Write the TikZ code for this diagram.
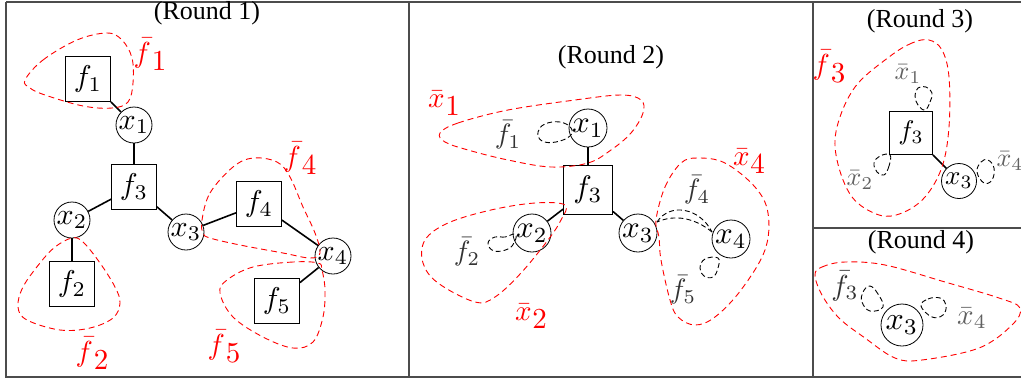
\documentclass[tikz,border=0pt]{standalone}
\usepackage[no-math]{fontspec}
\usepackage{graphicx}
\newfontfamily\titlefont{Liberation Serif}
\newcommand\mt[2]{\scalebox{#1}{$#2$}}
\newcommand\rlab[3]{\scalebox{#1}{$\bar{#2}\kern0.3pt\raisebox{-0.28em}{$#3$}$}}
\tikzset{
  frame/.style={draw=black!70,line width=1.3pt},
  title/.style={font=\titlefont\fontsize{26}{26}\selectfont,inner sep=0pt},
  facA/.style={draw,line width=0.8pt,inner sep=0pt,minimum size=45pt},
  varA/.style={circle,draw,line width=0.8pt,inner sep=0pt,minimum size=36pt},
  facB/.style={draw,line width=0.8pt,inner sep=0pt,minimum size=49pt},
  varB/.style={circle,draw,line width=0.8pt,inner sep=0pt,minimum size=38pt},
  facC/.style={draw,line width=0.8pt,inner sep=0pt,minimum size=43pt},
  varC/.style={circle,draw,line width=0.8pt,inner sep=0pt,minimum size=35pt},
  varD/.style={circle,draw,line width=0.8pt,inner sep=0pt,minimum size=42pt},
  link/.style={line width=1.6pt},
  grp/.style={red,line width=0.9pt,dash pattern=on 6pt off 4pt},
  lp/.style={black,line width=0.9pt,dash pattern=on 5pt off 3pt},
  redlab/.style={red,inner sep=0pt},
  graylab/.style={black!80,inner sep=0pt},
  lightlab/.style={black!62,inner sep=0pt},
}
\begin{document}
\begin{tikzpicture}[x=1pt,y=-1pt]
\useasboundingbox (0,0) rectangle (1021,381);
% frames
\draw[frame] (6,2) -- (1021,2);
\draw[frame] (6,2) -- (6,377) -- (1021,377);
\draw[frame] (409,2) -- (409,377);
\draw[frame] (813,2) -- (813,377);
\draw[frame] (813,228) -- (1021,228);

% ---------------- Round 1
\node[title] (t1) at (207,13) {(Round 1)};
\node[facA] (f1) at (88,79) {\mt{3}{f_1}};
\node[varA] (x1) at (134,125) {\mt{3}{x_1}};
\node[facA] (f3) at (134,187) {\mt{3}{f_3}};
\node[varA] (x2) at (72,220) {\mt{3}{x_2}};
\node[facA] (f2) at (72,284) {\mt{3}{f_2}};
\node[varA] (x3) at (186,232) {\mt{3}{x_3}};
\node[facA] (f4) at (259,204) {\mt{3}{f_4}};
\node[varA] (x4) at (333,256) {\mt{3}{x_4}};
\node[facA] (f5) at (277,301) {\mt{3}{f_5}};
\draw[link] (f1) -- (x1);
\draw[link] (x1) -- (f3);
\draw[link] (f3) -- (x2);
\draw[link] (x2) -- (f2);
\draw[link] (f3) -- (x3);
\draw[link] (x3) -- (f4);
\draw[link] (f4) -- (x4);
\draw[link] (x4) -- (f5);
\draw[grp] plot[smooth cycle,tension=0.6] coordinates {(25,80) (43,60) (77,40) (107,33) (122,40) (132,58) (133,83) (128,102) (112,108) (83,106) (45,95) (30,88)};
\draw[grp] plot[smooth cycle,tension=0.6] coordinates {(72,238) (83,242) (100,263) (115,287) (120,303) (113,318) (90,328) (60,330) (27,320) (18,307) (23,287) (40,263) (55,247)};
\draw[grp] plot[smooth cycle,tension=0.6] coordinates {(202,220) (210,193) (233,167) (253,158) (277,162) (290,177) (303,207) (315,233) (320,253) (310,258) (283,253) (240,245) (210,238) (203,233)};
\draw[grp] plot[smooth cycle,tension=0.6] coordinates {(318,263) (293,262) (253,267) (227,280) (220,293) (233,317) (263,337) (293,348) (313,342) (323,317) (325,290) (322,270)};
\node[redlab] (lf1) at (150,54) {\rlab{2.9}{f}{1}};
\node[redlab] (lf2) at (92,353) {\rlab{2.9}{f}{2}};
\node[redlab] (lf4) at (300,158) {\rlab{2.9}{f}{4}};
\node[redlab] (lf5) at (224,346) {\rlab{2.9}{f}{5}};

% ---------------- Round 2
\node[title] (t2) at (611,57) {(Round 2)};
\node[varB] (bx1) at (588,128) {\mt{3.1}{x_1}};
\node[facB] (bf3) at (588,190) {\mt{3.1}{f_3}};
\node[varB] (bx2) at (532,233) {\mt{3.1}{x_2}};
\node[varB] (bx3) at (638,233) {\mt{3.1}{x_3}};
\node[varB] (bx4) at (731,239) {\mt{3.1}{x_4}};
\draw[link] (bx1) -- (bf3);
\draw[link] (bf3) -- (bx2);
\draw[link] (bf3) -- (bx3);
\draw[lp] plot[smooth cycle,tension=0.7] coordinates {(571,128) (560,122) (545,124) (538,132) (542,141) (556,142) (570,136)};
\draw[lp] plot[smooth cycle,tension=0.7] coordinates {(515,234) (505,237) (495,237) (488,243) (494,251) (508,249) (515,241)};
\draw[lp] (657,222) .. controls (670,202) and (700,208) .. (712,232);
\draw[lp] (712,232) .. controls (695,218) and (675,214) .. (657,222);
\draw[lp] plot[smooth cycle,tension=0.7] coordinates {(718,258) (705,259) (700,268) (704,276) (713,277) (718,268)};
\node[graylab] (gf1) at (508,135) {\mt{2.8}{\bar{f}_1}};
\node[graylab] (gf2) at (467,252) {\mt{2.8}{\bar{f}_2}};
\node[graylab] (gf4) at (697,190) {\mt{2.8}{\bar{f}_4}};
\node[graylab] (gf5) at (683,290) {\mt{2.8}{\bar{f}_5}};
\draw[grp] plot[smooth cycle,tension=0.6] coordinates {(440,133) (458,123) (508,110) (575,100) (621,95) (641,100) (643,113) (631,133) (611,150) (588,163) (551,167) (508,160) (468,150) (445,142)};
\draw[grp] plot[smooth cycle,tension=0.6] coordinates {(565,205) (535,203) (491,210) (448,223) (425,240) (423,263) (438,283) (475,302) (495,297) (521,273) (548,240) (561,220)};
\draw[grp] plot[smooth cycle,tension=0.6] coordinates {(656,220) (665,187) (681,163) (698,158) (725,163) (755,187) (768,213) (765,250) (741,290) (715,317) (695,325) (678,317) (670,300) (661,260) (659,237)};
\node[redlab] (lx1) at (444,103) {\rlab{2.9}{x}{1}};
\node[redlab] (lx2) at (531,316) {\rlab{2.9}{x}{2}};
\node[redlab] (lx4) at (749,161) {\rlab{2.9}{x}{4}};

% ---------------- Round 3
\node[title] (t3) at (920,21) {(Round 3)};
\node[facC] (cf3) at (911,133) {\mt{2.7}{f_3}};
\node[varC] (cx3) at (959,181) {\mt{2.7}{x_3}};
\draw[link] (cf3) -- (cx3);
\draw[lp] plot[smooth cycle,tension=0.7] coordinates {(925,110) (930,102) (932,93) (926,87) (918,88) (915,96) (918,105)};
\draw[lp] plot[smooth cycle,tension=0.7] coordinates {(890,155) (889,166) (884,175) (877,172) (874,163) (880,156)};
\draw[lp] plot[smooth cycle,tension=0.7] coordinates {(977,172) (981,162) (988,160) (994,168) (992,180) (984,183)};
\node[lightlab] (gx1) at (908,74) {\mt{2.6}{\bar{x}_1}};
\node[lightlab] (gx2) at (860,180) {\mt{2.6}{\bar{x}_2}};
\node[lightlab] (gx4) at (1010,161) {\mt{2.6}{\bar{x}_4}};
\draw[grp] plot[smooth cycle,tension=0.6] coordinates {(929,40) (912,43) (889,57) (855,87) (837,127) (837,160) (852,197) (879,215) (902,213) (925,197) (942,167) (949,127) (949,77) (942,50)};
\node[redlab] (lf3) at (829,66) {\rlab{2.9}{f}{3}};

% ---------------- Round 4
\node[title] (t4) at (921,242) {(Round 4)};
\node[varD] (dx3) at (902,325) {\mt{3.2}{x_3}};
\draw[lp] plot[smooth cycle,tension=0.7] coordinates {(883,307) (878,294) (870,286) (863,292) (862,302) (870,311)};
\draw[lp] plot[smooth cycle,tension=0.7] coordinates {(921,306) (928,299) (940,298) (946,305) (943,315) (932,317)};
\node[graylab] (gf3) at (845,286) {\mt{2.9}{\bar{f}_3}};
\node[lightlab] (gx4d) at (972,318) {\mt{2.9}{\bar{x}_4}};
\draw[grp] plot[smooth cycle,tension=0.6] coordinates {(815,275) (822,267) (845,262) (885,265) (945,282) (999,298) (1020,308) (1012,325) (979,348) (922,360) (895,358) (865,338) (839,318) (822,295)};
\end{tikzpicture}
\end{document}
